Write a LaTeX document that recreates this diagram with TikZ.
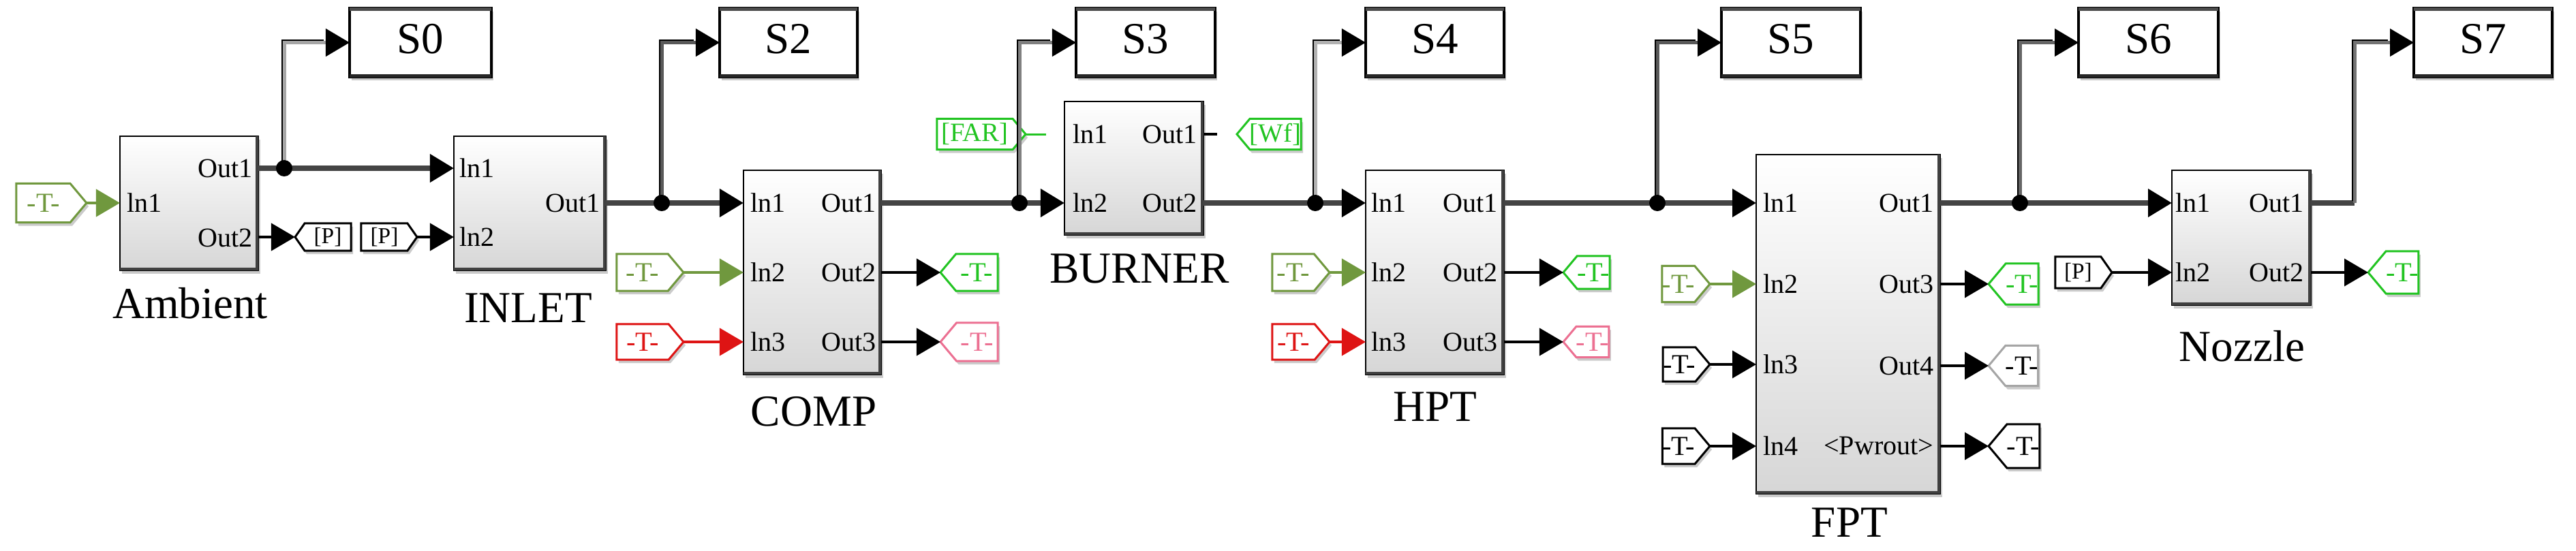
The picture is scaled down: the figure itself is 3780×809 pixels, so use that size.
\documentclass[tikz,border=0pt]{standalone}
\usepackage{fontspec}
\setmainfont{Liberation Serif}
\usetikzlibrary{arrows.meta,shapes.symbols,shadows}
\definecolor{tgolive}{RGB}{112,152,62}
\definecolor{tggreen}{RGB}{34,196,34}
\definecolor{tgred}{RGB}{222,20,20}
\definecolor{tgpink}{RGB}{236,112,146}
\definecolor{tggray}{RGB}{165,165,165}
\definecolor{wire}{RGB}{68,68,68}
\newcommand\myPortFont{\fontsize{11.4pt}{12pt}\selectfont}
\newcommand\myBigFont{\fontsize{18.5pt}{20pt}\selectfont}
\newcommand\myTagFont{\fontsize{11.5pt}{12pt}\selectfont}
\newcommand\mySmallTagFont{\fontsize{9.5pt}{10pt}\selectfont}
\newcommand\myMidTagFont{\fontsize{11pt}{12pt}\selectfont}
\tikzset{
  shad/.style={drop shadow={shadow xshift=0.03cm, shadow yshift=-0.05cm, fill=black!45, opacity=0.45}},
  blk/.style={draw=black, line width=0.022cm, top color=white, bottom color=black!16, inner sep=0pt, outer sep=0pt, shad},
  sbx/.style={draw=black, line width=0.035cm, fill=white, inner sep=0pt, outer sep=0pt, shad},
  plab/.style={font=\myPortFont, inner sep=0pt},
  blab/.style={font=\myBigFont, inner sep=0pt, anchor=base},
  tagbase/.style={signal, draw, fill=white, line width=0.03cm, inner sep=0pt, outer sep=0pt, signal pointer angle=100, font=\myTagFont, shad},
  fromtag/.style={tagbase, signal to=east, anchor=east},
  gototag/.style={tagbase, signal to=west, anchor=west},
  arrowc/.style={-{Triangle[length=0.35cm,width=0.40cm,color=#1]}},
  mainwire/.style={draw=wire, line width=0.075cm},
  tagwire/.style={draw=black, line width=0.04cm},
  jdot/.style={circle, fill=black, inner sep=0pt, minimum size=0.24cm},
}
\newcommand\mkblock[5]{%
  \node[blk, minimum width={(#4-#2)*0.01cm}, minimum height={(#5-#3)*0.01cm}] (#1) at ({(#2+#4)/2},{(#3+#5)/2}) {};
  \draw[black!75, line width=0.045cm] ([xshift=-0.02cm]#1.north east) -- ([xshift=-0.02cm,yshift=0.02cm]#1.south east) -- ([yshift=0.02cm]#1.south west);
}
\newcommand\mksbox[4]{%
  \node[sbx, minimum width={(#3-#2)*0.01cm}, minimum height=1.01cm] (#1) at ({(#2+#3)/2},62.5) {};
  \draw[black!70, line width=0.05cm] ([yshift=-0.02cm]#1.north west) -- ([yshift=-0.02cm]#1.north east);
  \draw[black!85, line width=0.05cm] ([yshift=0.02cm]#1.south west) -- ([yshift=0.02cm]#1.south east);
  \node[blab] (#1t) at ({(#2+#3)/2},78) {#4};
}
\newcommand\branch[3]{%
  \draw[black, line width=0.03cm, shorten >=0.35cm, transform canvas={xshift=-0.028cm,yshift=0.028cm}] (#1) |- (#2.west);
  \draw[#3, line width=0.05cm, arrowc=black] (#1) |- (#2.west);
}
\begin{document}
\begin{tikzpicture}[x=0.01cm,y=-0.01cm]
\useasboundingbox[fill=white] (0,0) rectangle (3780,809);

% ---------- blocks ----------
\mkblock{amb}{176}{200}{379}{397}
\mkblock{inlet}{666}{200}{889}{397}
\mkblock{comp}{1091}{250}{1293}{550}
\mkblock{burner}{1562}{149}{1766}{345}
\mkblock{hpt}{2004}{250}{2207}{550}
\mkblock{fpt}{2577}{227}{2847}{725}
\mkblock{noz}{3187}{250}{3391}{448}

% ---------- scopes ----------
\mksbox{s0}{513}{721}{S0}
\mksbox{s2}{1056}{1258}{S2}
\mksbox{s3}{1579}{1783}{S3}
\mksbox{s4}{2004}{2207}{S4}
\mksbox{s5}{2526}{2730}{S5}
\mksbox{s6}{3050}{3255}{S6}
\mksbox{s7}{3542}{3745}{S7}

% ---------- block names ----------
\node[blab] (ambN) at (279,467) {Ambient};
\node[blab] (inletN) at (775,473) {INLET};
\node[blab] (compN) at (1194,625) {COMP};
\node[blab] (burnerN) at (1672,415) {BURNER};
\node[blab] (hptN) at (2106,618) {HPT};
\node[blab] (fptN) at (2714,788) {FPT};
\node[blab] (nozN) at (3290,530) {Nozzle};

% ---------- port labels ----------
\node[plab, anchor=west] (ambL1) at (186,298) {ln1};
\node[plab, anchor=east] (ambR1) at (371,247) {Out1};
\node[plab, anchor=east] (ambR2) at (371,349) {Out2};
\node[plab, anchor=west] (inletL1) at (674,247) {ln1};
\node[plab, anchor=west] (inletL2) at (674,348) {ln2};
\node[plab, anchor=east] (inletR1) at (881,298) {Out1};
\node[plab, anchor=west] (compL1) at (1101,298) {ln1};
\node[plab, anchor=west] (compL2) at (1101,400) {ln2};
\node[plab, anchor=west] (compL3) at (1101,502) {ln3};
\node[plab, anchor=east] (compR1) at (1286,298) {Out1};
\node[plab, anchor=east] (compR2) at (1286,400) {Out2};
\node[plab, anchor=east] (compR3) at (1286,502) {Out3};
\node[plab, anchor=west] (burnerL1) at (1574,197) {ln1};
\node[plab, anchor=west] (burnerL2) at (1574,298) {ln2};
\node[plab, anchor=east] (burnerR1) at (1757,197) {Out1};
\node[plab, anchor=east] (burnerR2) at (1757,298) {Out2};
\node[plab, anchor=west] (hptL1) at (2012,298) {ln1};
\node[plab, anchor=west] (hptL2) at (2012,400) {ln2};
\node[plab, anchor=west] (hptL3) at (2012,502) {ln3};
\node[plab, anchor=east] (hptR1) at (2198,298) {Out1};
\node[plab, anchor=east] (hptR2) at (2198,400) {Out2};
\node[plab, anchor=east] (hptR3) at (2198,502) {Out3};
\node[plab, anchor=west] (fptL1) at (2587,298) {ln1};
\node[plab, anchor=west] (fptL2) at (2587,417) {ln2};
\node[plab, anchor=west] (fptL3) at (2587,535) {ln3};
\node[plab, anchor=west] (fptL4) at (2587,655) {ln4};
\node[plab, anchor=east] (fptR1) at (2838,298) {Out1};
\node[plab, anchor=east] (fptR3) at (2838,417) {Out3};
\node[plab, anchor=east] (fptR4) at (2838,537) {Out4};
\node[plab, anchor=east] (fptR5) at (2838,655) {<Pwrout>};
\node[plab, anchor=west] (nozL1) at (3192,298) {ln1};
\node[plab, anchor=west] (nozL2) at (3192,400) {ln2};
\node[plab, anchor=east] (nozR1) at (3381,298) {Out1};
\node[plab, anchor=east] (nozR2) at (3381,400) {Out2};

% ---------- port coordinates ----------
\coordinate (ambI1) at (amb.west |- 0,298);
\coordinate (ambO1) at (amb.east |- 0,247);
\coordinate (ambO2) at (amb.east |- 0,348);
\coordinate (inletI1) at (inlet.west |- 0,247);
\coordinate (inletI2) at (inlet.west |- 0,348);
\coordinate (inletO1) at (inlet.east |- 0,298);
\coordinate (compI1) at (comp.west |- 0,298);
\coordinate (compI2) at (comp.west |- 0,400);
\coordinate (compI3) at (comp.west |- 0,502);
\coordinate (compO1) at (comp.east |- 0,298);
\coordinate (compO2) at (comp.east |- 0,400);
\coordinate (compO3) at (comp.east |- 0,502);
\coordinate (burnerI2) at (burner.west |- 0,298);
\coordinate (burnerO1) at (burner.east |- 0,197);
\coordinate (burnerO2) at (burner.east |- 0,298);
\coordinate (hptI1) at (hpt.west |- 0,298);
\coordinate (hptI2) at (hpt.west |- 0,400);
\coordinate (hptI3) at (hpt.west |- 0,502);
\coordinate (hptO1) at (hpt.east |- 0,298);
\coordinate (hptO2) at (hpt.east |- 0,400);
\coordinate (hptO3) at (hpt.east |- 0,502);
\coordinate (fptI1) at (fpt.west |- 0,298);
\coordinate (fptI2) at (fpt.west |- 0,417);
\coordinate (fptI3) at (fpt.west |- 0,535);
\coordinate (fptI4) at (fpt.west |- 0,655);
\coordinate (fptO1) at (fpt.east |- 0,298);
\coordinate (fptO3) at (fpt.east |- 0,417);
\coordinate (fptO4) at (fpt.east |- 0,537);
\coordinate (fptO5) at (fpt.east |- 0,655);
\coordinate (nozI1) at (noz.west |- 0,298);
\coordinate (nozI2) at (noz.west |- 0,400);
\coordinate (nozO1) at (noz.east |- 0,298);
\coordinate (nozO2) at (noz.east |- 0,400);
\coordinate (j0) at (417,247);
\coordinate (j2) at (971,298);
\coordinate (j3) at (1496,298);
\coordinate (j4) at (1930,298);
\coordinate (j5) at (2432,298);
\coordinate (j6) at (2964,298);
\coordinate (k7) at (3455,298);
\coordinate (farEnd) at (1535,197);
\coordinate (burnerO1end) at (1786,197);

% ---------- tags ----------
\node[fromtag, draw=tgolive, text=tgolive, minimum width=1.03cm, minimum height=0.57cm] (ambT) at (127,298) {-T-};
\node[gototag, draw=black, font=\mySmallTagFont, signal pointer angle=110, minimum width=0.82cm, minimum height=0.40cm] (pGoto) at (433,348) {[P]};
\node[fromtag, draw=black, font=\mySmallTagFont, signal pointer angle=110, minimum width=0.82cm, minimum height=0.40cm] (pFrom1) at (612,348) {[P]};
\node[fromtag, draw=tgolive, text=tgolive, minimum width=0.98cm, minimum height=0.54cm] (compT2) at (1003,400) {-T-};
\node[fromtag, draw=tgred, text=tgred, minimum width=0.98cm, minimum height=0.52cm] (compT3) at (1003,502) {-T-};
\node[gototag, draw=tggreen, text=tggreen, minimum width=0.84cm, minimum height=0.54cm] (compG2) at (1380,400) {-T-};
\node[gototag, draw=tgpink, text=tgpink, minimum width=0.84cm, minimum height=0.56cm] (compG3) at (1380,502) {-T-};
\node[fromtag, draw=tggreen, text=tggreen, font=\myMidTagFont, minimum width=1.30cm, minimum height=0.45cm] (far) at (1505,197) {[FAR]};
\node[gototag, draw=tggreen, text=tggreen, font=\myMidTagFont, minimum width=0.86cm, minimum height=0.45cm] (wf) at (1815,197) {[Wf]};
\node[fromtag, draw=tgolive, text=tgolive, minimum width=0.84cm, minimum height=0.54cm] (hptT2) at (1951,400) {-T-};
\node[fromtag, draw=tgred, text=tgred, minimum width=0.84cm, minimum height=0.52cm] (hptT3) at (1951,502) {-T-};
\node[gototag, draw=tggreen, text=tggreen, minimum width=0.63cm, minimum height=0.48cm] (hptG2) at (2294,400) {-T-};
\node[gototag, draw=tgpink, text=tgpink, minimum width=0.63cm, minimum height=0.45cm] (hptG3) at (2294,502) {-T-};
\node[fromtag, draw=tgolive, text=tgolive, minimum width=0.66cm, minimum height=0.53cm] (fptT2) at (2509,417) {-T-};
\node[fromtag, draw=black, minimum width=0.66cm, minimum height=0.50cm] (fptT3) at (2509,535) {-T-};
\node[fromtag, draw=black, minimum width=0.66cm, minimum height=0.52cm] (fptT4) at (2509,655) {-T-};
\node[gototag, draw=tggreen, text=tggreen, minimum width=0.66cm, minimum height=0.60cm] (fptG3) at (2918,417) {-T-};
\node[gototag, draw=tggray, minimum width=0.66cm, minimum height=0.59cm] (fptG4) at (2918,537) {-T-};
\node[gototag, draw=black, minimum width=0.66cm, minimum height=0.64cm] (fptG5) at (2918,655) {-T-};
\node[fromtag, draw=black, font=\mySmallTagFont, signal pointer angle=110, minimum width=0.83cm, minimum height=0.46cm] (pFrom2) at (3099,400) {[P]};
\node[gototag, draw=tggreen, text=tggreen, minimum width=0.69cm, minimum height=0.62cm] (nozG2) at (3475,400) {-T-};

% ---------- tag wires ----------
\draw[tagwire, draw=tgolive, arrowc=tgolive] (ambT.east) -- (ambI1);
\draw[tagwire, arrowc=black] (ambO2) -- (pGoto.west);
\draw[tagwire, arrowc=black] (pFrom1.east) -- (inletI2);
\draw[tagwire, draw=tgolive, arrowc=tgolive] (compT2.east) -- (compI2);
\draw[tagwire, draw=tgred, arrowc=tgred] (compT3.east) -- (compI3);
\draw[tagwire, arrowc=black] (compO2) -- (compG2.west);
\draw[tagwire, arrowc=black] (compO3) -- (compG3.west);
\draw[tggreen, line width=0.03cm] (far.east) -- (farEnd);
\draw[tagwire] (burnerO1) -- (burnerO1end);
\draw[tagwire, draw=tgolive, arrowc=tgolive] (hptT2.east) -- (hptI2);
\draw[tagwire, draw=tgred, arrowc=tgred] (hptT3.east) -- (hptI3);
\draw[tagwire, arrowc=black] (hptO2) -- (hptG2.west);
\draw[tagwire, arrowc=black] (hptO3) -- (hptG3.west);
\draw[tagwire, draw=tgolive, arrowc=tgolive] (fptT2.east) -- (fptI2);
\draw[tagwire, arrowc=black] (fptT3.east) -- (fptI3);
\draw[tagwire, arrowc=black] (fptT4.east) -- (fptI4);
\draw[tagwire, arrowc=black] (fptO3) -- (fptG3.west);
\draw[tagwire, arrowc=black] (fptO4) -- (fptG4.west);
\draw[tagwire, arrowc=black] (fptO5) -- (fptG5.west);
\draw[tagwire, arrowc=black] (pFrom2.east) -- (nozI2);
\draw[tagwire, arrowc=black] (nozO2) -- (nozG2.west);

% ---------- main wires ----------
\draw[mainwire, arrowc=black] (ambO1) -- (inletI1);
\draw[mainwire, arrowc=black] (inletO1) -- (compI1);
\draw[mainwire, arrowc=black] (compO1) -- (burnerI2);
\draw[mainwire, arrowc=black] (burnerO2) -- (hptI1);
\draw[mainwire, arrowc=black] (hptO1) -- (fptI1);
\draw[mainwire, arrowc=black] (fptO1) -- (nozI1);
\draw[mainwire] (nozO1) -- (k7);

% ---------- branches to scopes ----------
\branch{j0}{s0}{black!35}
\branch{j2}{s2}{black!65}
\branch{j3}{s3}{black!50}
\branch{j4}{s4}{black!30}
\branch{j5}{s5}{black!65}
\branch{j6}{s6}{black!60}
\branch{k7}{s7}{black!55}

% ---------- junction dots ----------
\node[jdot] (d0) at (j0) {};
\node[jdot] (d2) at (j2) {};
\node[jdot] (d3) at (j3) {};
\node[jdot] (d4) at (j4) {};
\node[jdot] (d5) at (j5) {};
\node[jdot] (d6) at (j6) {};
\end{tikzpicture}
\end{document}
